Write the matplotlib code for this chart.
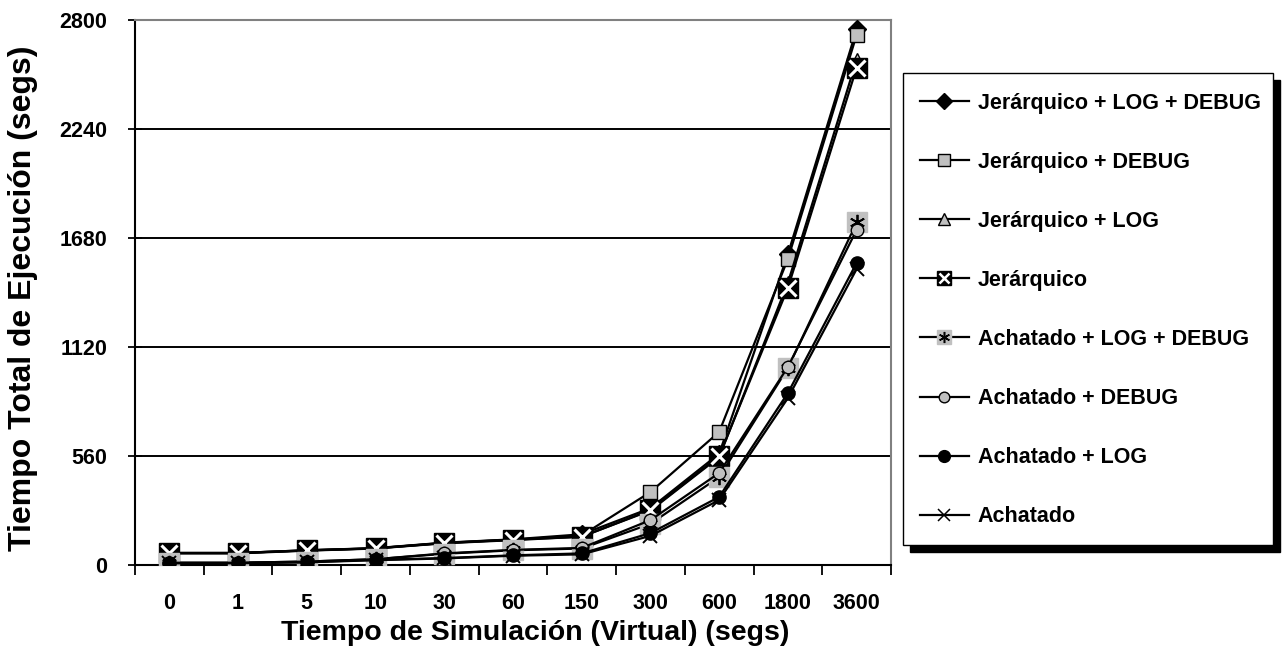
import matplotlib
matplotlib.use("Agg")
import matplotlib.pyplot as plt
from matplotlib.lines import Line2D
from matplotlib.patches import Rectangle
from matplotlib.legend_handler import HandlerTuple

plt.rcParams['font.family'] = ['Liberation Sans', 'DejaVu Sans']
plt.rcParams['font.weight'] = 'bold'
plt.rcParams['axes.labelweight'] = 'bold'

# Simulated (virtual) time categories
sim_times = ["0", "1", "5", "10", "30", "60", "150", "300", "600", "1800", "3600"]

# Total execution time (segs) per configuration
jer_log_debug = [62, 62, 76, 87, 115, 132, 158, 292, 572, 1597, 2752]
jer_debug = [62, 62, 76, 86, 113, 130, 152, 375, 684, 1573, 2724]
jer_log = [60, 60, 74, 85, 112, 128, 146, 280, 555, 1450, 2596]
jer = [62, 62, 75, 86, 114, 131, 145, 283, 560, 1424, 2555]
ach_log_debug = [12, 12, 18, 30, 58, 76, 85, 212, 452, 1012, 1760]
ach_debug = [12, 12, 18, 30, 60, 78, 88, 231, 473, 1018, 1722]
ach_log = [10, 10, 15, 27, 36, 50, 60, 164, 350, 884, 1552]
ach = [10, 10, 14, 25, 34, 48, 55, 150, 334, 858, 1521]

labels = ["Jerárquico + LOG + DEBUG", "Jerárquico + DEBUG", "Jerárquico + LOG",
          "Jerárquico", "Achatado + LOG + DEBUG", "Achatado + DEBUG",
          "Achatado + LOG", "Achatado"]

y_ticks = [0, 560, 1120, 1680, 2240, 2800]

GREY = "#c0c0c0"
LW = 1.6

fig = plt.figure(figsize=(12.85, 6.51), dpi=100)
ax = fig.add_axes([0.105, 0.132, 0.5884, 0.8373])
x = list(range(len(sim_times)))

def base(**kw):
    d = dict(color="black", lw=LW, markeredgewidth=1.0, markeredgecolor="black")
    d.update(kw)
    return d

ax.plot(x, jer_log_debug, **base(marker="D", markersize=9, markerfacecolor="black"), zorder=3)
ax.plot(x, jer_debug, **base(marker="s", markersize=9.5, markerfacecolor=GREY), zorder=3.1)
ax.plot(x, jer_log, **base(marker="^", markersize=9.5, markerfacecolor=GREY), zorder=3.2)
ax.plot(x, jer, **base(marker="s", markersize=14, markerfacecolor="black"), zorder=3.3)
ax.plot(x, jer, ls="none", marker="x", markersize=11, markeredgecolor="white",
        markeredgewidth=2.2, zorder=3.35)
ax.plot(x, ach_log_debug, **base(marker="s", markersize=14, markerfacecolor=GREY,
                                 markeredgecolor=GREY), zorder=3.4)
ax.plot(x, ach_log_debug, ls="none", marker=(6, 2, 0), markersize=11,
        markeredgecolor="black", markeredgewidth=1.3, zorder=3.45)
ax.plot(x, ach_debug, **base(marker="o", markersize=9, markerfacecolor=GREY), zorder=3.5)
ax.plot(x, ach_log, **base(marker="o", markersize=9.5, markerfacecolor="black"), zorder=3.6)
ax.plot(x, ach, **base(marker="x", markersize=10, markeredgewidth=1.4), zorder=3.7)

ax.set_xlim(-0.5, len(sim_times) - 0.5)
ax.set_ylim(0, 2800)
ax.set_yticks(y_ticks)
ax.set_yticklabels([str(v) for v in y_ticks])
ax.yaxis.grid(True, color="black", lw=1.4)
ax.set_axisbelow(True)

# Category boundaries carry the tick marks, centres carry the labels
ax.set_xticks([i - 0.5 for i in range(len(sim_times) + 1)])
ax.set_xticklabels([])
ax.set_xticks(x, minor=True)
ax.set_xticklabels(sim_times, minor=True)
ax.tick_params(axis="x", which="major", direction="out", length=7, width=1.3)
ax.tick_params(axis="x", which="minor", length=0, pad=20, labelsize=15.5)
ax.tick_params(axis="y", direction="inout", length=10, width=1.3, labelsize=15.5, pad=15)

for s in ("left", "bottom"):
    ax.spines[s].set_color("black")
    ax.spines[s].set_linewidth(1.5)
for s in ("top", "right"):
    ax.spines[s].set_color("#808080")
    ax.spines[s].set_linewidth(1.5)

ax.set_xlabel("Tiempo de Simulación (Virtual) (segs)", fontsize=20.5)
ax.xaxis.set_label_coords(0.5291, -0.101)
ax.set_ylabel("Tiempo Total de Ejecución (segs)", fontsize=23)
ax.yaxis.set_label_coords(-0.128, 0.49)

# Legend box with a solid drop shadow
W, H = fig.get_size_inches() * fig.dpi
bx0, bx1, by0, by1 = 903, 1273, 73, 545
off = 7
fig.patches.append(Rectangle(((bx0 + off) / W, 1 - (by1 + off) / H), (bx1 - bx0) / W,
                             (by1 - by0) / H, transform=fig.transFigure,
                             facecolor="black", edgecolor="black", zorder=1))
fig.patches.append(Rectangle((bx0 / W, 1 - by1 / H), (bx1 - bx0) / W, (by1 - by0) / H,
                             transform=fig.transFigure, facecolor="white",
                             edgecolor="black", lw=1.0, zorder=2))

lms = 8.5
h_jer = (Line2D([], [], color="black", lw=LW, marker="s", markersize=9.5,
                markerfacecolor="black", markeredgecolor="black"),
         Line2D([], [], ls="none", marker="x", markersize=7.5,
                markeredgecolor="white", markeredgewidth=1.8))
h_ald = (Line2D([], [], color="black", lw=LW, marker="s", markersize=10,
                markerfacecolor=GREY, markeredgecolor=GREY),
         Line2D([], [], ls="none", marker=(6, 2, 0), markersize=8,
                markeredgecolor="black", markeredgewidth=1.1))
handles = [
    Line2D([], [], color="black", lw=LW, marker="D", markersize=lms,
           markerfacecolor="black", markeredgecolor="black"),
    Line2D([], [], color="black", lw=LW, marker="s", markersize=lms,
           markerfacecolor=GREY, markeredgecolor="black"),
    Line2D([], [], color="black", lw=LW, marker="^", markersize=lms,
           markerfacecolor=GREY, markeredgecolor="black"),
    h_jer,
    h_ald,
    Line2D([], [], color="black", lw=LW, marker="o", markersize=lms * 0.9,
           markerfacecolor=GREY, markeredgecolor="black"),
    Line2D([], [], color="black", lw=LW, marker="o", markersize=lms,
           markerfacecolor="black", markeredgecolor="black"),
    Line2D([], [], color="black", lw=LW, marker="x", markersize=lms,
           markeredgecolor="black", markeredgewidth=1.1),
]
leg = fig.legend(handles, labels, loc="upper left",
                 bbox_to_anchor=((bx0 - 5) / W, 1 - (by0 - 2) / H),
                 frameon=False, fontsize=15.5, handlelength=2.3, handletextpad=0.4,
                 labelspacing=1.77, borderpad=0.5,
                 handler_map={tuple: HandlerTuple(ndivide=1)})
leg.set_zorder(5)

fig.savefig("out.png", dpi=100)
